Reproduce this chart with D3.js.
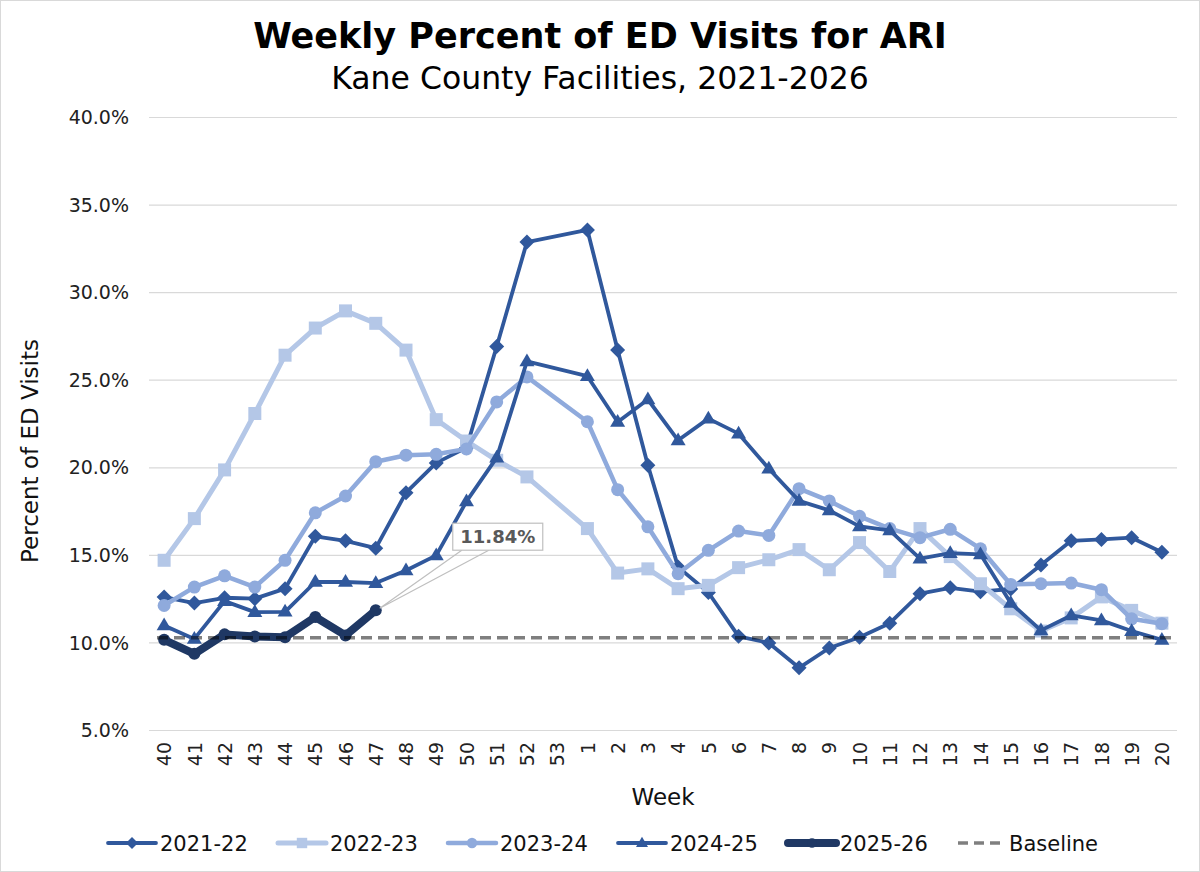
<!DOCTYPE html>
<html>
<head>
<meta charset="utf-8">
<script src="https://cdn.jsdelivr.net/npm/d3@7"></script>
<style>
  html, body { margin: 0; padding: 0; background: #fff; }
  svg { display: block; font-family: "DejaVu Sans", Verdana, sans-serif; }
</style>
</head>
<body>
<svg id="chart" width="1200" height="872"></svg>
<script>
// ---------- DATA ----------
const weeks = ["40","41","42","43","44","45","46","47","48","49","50","51","52","53",
  "1","2","3","4","5","6","7","8","9","10","11","12","13","14","15","16","17","18","19","20"];

const s2021_22 = [12.59, 12.25, 12.55, 12.50, 13.07, 16.06, 15.80, 15.38, 18.55, 20.25, 21.12, 26.90, 32.86, null,
  33.55, 26.70, 20.12, 14.30, 12.85, 10.35, 9.97, 8.55, 9.68, 10.30, 11.10, 12.78, 13.12, 12.90, 13.05, 14.42, 15.80, 15.88, 15.98, 15.15];

const s2022_23 = [14.69, 17.07, 19.85, 23.07, 26.40, 27.95, 28.93, 28.22, 26.69, 22.72, 21.50, 20.40, 19.45, null,
  16.50, 13.96, 14.20, 13.07, 13.26, 14.27, 14.72, 15.30, 14.15, 15.70, 14.05, 16.50, 14.90, 13.35, 11.92, 10.65, 11.40, 12.60, 11.83, 11.10];

const s2023_24 = [12.11, 13.16, 13.80, 13.16, 14.69, 17.40, 18.36, 20.32, 20.69, 20.74, 21.05, 23.73, 25.16, null,
  22.60, 18.72, 16.60, 13.92, 15.26, 16.36, 16.11, 18.78, 18.08, 17.20, 16.50, 15.98, 16.46, 15.35, 13.31, 13.35, 13.39, 13.01, 11.35, 11.07];

const s2024_25 = [10.97, 10.20, 12.36, 11.73, 11.75, 13.45, 13.45, 13.39, 14.11, 14.97, 18.05, 20.55, 26.05, null,
  25.20, 22.59, 23.87, 21.54, 22.78, 21.92, 19.92, 18.08, 17.54, 16.63, 16.40, 14.78, 15.10, 15.03, 12.25, 10.69, 11.54, 11.26, 10.65, 10.15];

const s2025_26 = [10.15, 9.35, 10.46, 10.34, 10.30, 11.45, 10.40, 11.84];

const baselineValue = 10.27;

const seriesNames = ["2021-22", "2022-23", "2023-24", "2024-25", "2025-26"];
const seriesValues = [s2021_22, s2022_23, s2023_24, s2024_25, s2025_26];

const yTicks = [5, 10, 15, 20, 25, 30, 35, 40];

const titleText = "Weekly Percent of ED Visits for ARI";
const subtitleText = "Kane County Facilities, 2021-2026";
const xTitle = "Week";
const yTitle = "Percent of ED Visits";
const baselineName = "Baseline";

// ---------- STYLES ----------
const styles = {
  "2021-22": { color: "#30589c", width: 3.8, marker: "diamond", msize: 15 },
  "2022-23": { color: "#b4c7e7", width: 5,   marker: "square",  msize: 13 },
  "2023-24": { color: "#8faadc", width: 4.5, marker: "circle",  msize: 13 },
  "2024-25": { color: "#30589c", width: 3.8, marker: "triangle",msize: 15 },
  "2025-26": { color: "#1f3864", width: 8,   marker: "circle",  msize: 12 }
};

const svg = d3.select("#chart");
const W = 1200, H = 872;
const plot = { left: 149, right: 1177, top: 117, bottom: 730 };

svg.append("rect").attr("x", 0.5).attr("y", 0.5).attr("width", W - 1).attr("height", H - 1)
  .attr("fill", "#fff").attr("stroke", "#d9d9d9").attr("stroke-width", 1);

const x = d3.scalePoint().domain(weeks).range([plot.left, plot.right]).padding(0.5);
const y = d3.scaleLinear().domain([5, 40]).range([plot.bottom, plot.top]);

// gridlines
svg.append("g")
  .attr("transform", `translate(${plot.left},0)`)
  .call(d3.axisLeft(y).tickValues(yTicks).tickSize(-(plot.right - plot.left)).tickFormat(""))
  .call(g => g.select(".domain").remove())
  .call(g => g.selectAll("line").attr("stroke", "#d9d9d9").attr("stroke-width", 1.2));

// y axis labels
svg.append("g")
  .attr("transform", `translate(${plot.left - 20},0)`)
  .call(d3.axisLeft(y).tickValues(yTicks).tickSize(0).tickFormat(d => d.toFixed(1) + "%"))
  .call(g => g.select(".domain").remove())
  .call(g => g.selectAll("text").attr("font-size", 19).attr("fill", "#222")
    .attr("font-family", "DejaVu Sans, sans-serif").attr("x", 0).attr("dy", "0.35em"));

// x axis labels
svg.append("g")
  .attr("transform", `translate(0,${plot.bottom})`)
  .call(d3.axisBottom(x).tickSize(0))
  .call(g => g.select(".domain").remove())
  .call(g => g.selectAll("text")
    .attr("font-size", 19).attr("fill", "#222").attr("font-family", "DejaVu Sans, sans-serif")
    .attr("text-anchor", "end")
    .attr("transform", "rotate(-90)")
    .attr("x", -12).attr("y", 0).attr("dy", "0.35em"));

// titles
svg.append("text").attr("x", 600).attr("y", 48).attr("text-anchor", "middle")
  .attr("font-size", 35).attr("font-weight", "bold").attr("fill", "#000").text(titleText);
svg.append("text").attr("x", 600).attr("y", 89).attr("text-anchor", "middle")
  .attr("font-size", 31.5).attr("fill", "#000").text(subtitleText);
svg.append("text").attr("x", (plot.left + plot.right) / 2).attr("y", 805).attr("text-anchor", "middle")
  .attr("font-size", 23).attr("fill", "#111").text(xTitle);
svg.append("text").attr("transform", `translate(38,451) rotate(-90)`).attr("text-anchor", "middle")
  .attr("font-size", 23).attr("fill", "#111").text(yTitle);

// marker generator
function markerPath(type, s) {
  if (type === "diamond") {
    const h = s / 2;
    return `M0,${-h}L${h},0L0,${h}L${-h},0Z`;
  }
  if (type === "square") {
    return d3.symbol(d3.symbolSquare, s * s)();
  }
  if (type === "circle") {
    return d3.symbol(d3.symbolCircle, Math.PI * (s / 2) * (s / 2))();
  }
  if (type === "triangle") {
    const h = s * 0.85;
    return `M0,${-h * 0.62}L${s / 2},${h * 0.38}L${-s / 2},${h * 0.38}Z`;
  }
}

const line = d3.line().x(d => x(d.w)).y(d => y(d.v));

const seriesG = svg.append("g");
seriesNames.forEach((name, i) => {
  const st = styles[name];
  const pts = weeks.map((w, j) => ({ w, v: seriesValues[i][j] }))
    .filter(d => d.v !== null && d.v !== undefined);
  const g = seriesG.append("g");
  g.append("path").datum(pts).attr("d", line)
    .attr("fill", "none").attr("stroke", st.color).attr("stroke-width", st.width)
    .attr("stroke-linejoin", "round").attr("stroke-linecap", "round");
  g.selectAll("path.m").data(pts).join("path").attr("class", "m")
    .attr("transform", d => `translate(${x(d.w)},${y(d.v)})`)
    .attr("d", markerPath(st.marker, st.msize))
    .attr("fill", st.color);
});

// baseline
svg.append("line")
  .attr("x1", plot.left + 8).attr("x2", plot.right - 4)
  .attr("y1", y(baselineValue)).attr("y2", y(baselineValue))
  .attr("stroke", "#000").attr("stroke-opacity", 0.5)
  .attr("stroke-width", 3.5).attr("stroke-dasharray", "11,6");

// data label callout for last 2025-26 value
const lastIdx = s2025_26.length - 1;
const lx = x(weeks[lastIdx]), ly = y(s2025_26[lastIdx]);
const box = { x: lx + 77, y: ly - 87, w: 90, h: 27 };
svg.append("path")
  .attr("d", `M${box.x + 9},${box.y + box.h}L${lx + 4},${ly - 2}L${box.x + 36},${box.y + box.h}`)
  .attr("fill", "none").attr("stroke", "#bfbfbf").attr("stroke-width", 1.2);
svg.append("rect").attr("x", box.x).attr("y", box.y).attr("width", box.w).attr("height", box.h)
  .attr("fill", "#fff").attr("stroke", "#bfbfbf").attr("stroke-width", 1.2);
svg.append("text").attr("x", box.x + box.w / 2).attr("y", box.y + box.h / 2).attr("dy", "0.36em")
  .attr("text-anchor", "middle").attr("font-size", 18).attr("font-weight", "bold")
  .attr("fill", "#595959").text(s2025_26[lastIdx].toFixed(2) + "%");

// legend
const legendItems = seriesNames.concat([baselineName]);
const legend = svg.append("g").attr("transform", "translate(108,843)");
legendItems.forEach((name, i) => {
  const g = legend.append("g").attr("transform", `translate(${i * 170},0)`);
  if (name === baselineName) {
    g.append("line").attr("x1", 0).attr("x2", 42).attr("y1", 0).attr("y2", 0)
      .attr("stroke", "#000").attr("stroke-opacity", 0.5).attr("stroke-width", 3.5)
      .attr("stroke-dasharray", "10,6");
    g.append("text").attr("x", 51).attr("y", 0).attr("dy", "0.36em")
      .attr("font-size", 21).attr("fill", "#111").text(name);
  } else {
    const st = styles[name];
    g.append("line").attr("x1", 0).attr("x2", 48).attr("y1", 0).attr("y2", 0)
      .attr("stroke", st.color).attr("stroke-width", st.width).attr("stroke-linecap", "round");
    g.append("path").attr("transform", "translate(24,0)")
      .attr("d", markerPath(st.marker, st.msize * 0.8)).attr("fill", st.color);
    g.append("text").attr("x", 52).attr("y", 0).attr("dy", "0.36em")
      .attr("font-size", 21).attr("fill", "#111").text(name);
  }
});
</script>
</body>
</html>
